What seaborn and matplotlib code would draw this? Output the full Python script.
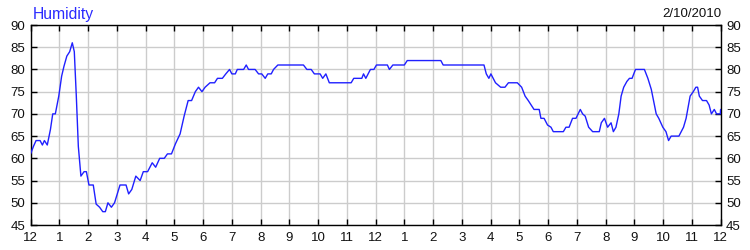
import matplotlib
matplotlib.use("Agg")
import matplotlib.pyplot as plt
import seaborn as sns
import pandas as pd

title = "Humidity"
date_label = "2/10/2010"

hours = [0, 0.1, 0.19, 0.33, 0.41, 0.48, 0.58, 0.69, 0.77, 0.86,
         0.98, 1.08, 1.16, 1.26, 1.36, 1.45, 1.52, 1.59, 1.66, 1.75,
         1.86, 1.94, 2.03, 2.18, 2.28, 2.4, 2.51, 2.6, 2.69, 2.81,
         2.92, 3.11, 3.32, 3.41, 3.52, 3.66, 3.81, 3.92, 4.07, 4.23,
         4.35, 4.49, 4.65, 4.76, 4.9, 5.04, 5.2, 5.34, 5.48, 5.6,
         5.73, 5.84, 5.96, 6.07, 6.24, 6.4, 6.5, 6.67, 6.79, 6.92,
         7.0, 7.12, 7.19, 7.41, 7.5, 7.58, 7.81, 7.93, 8.04, 8.16,
         8.25, 8.37, 8.45, 8.6, 9.49, 9.61, 9.76, 9.87, 10.07, 10.16,
         10.27, 10.39, 11.15, 11.24, 11.52, 11.58, 11.66, 11.82, 11.94, 12.03,
         12.41, 12.48, 12.6, 13.0, 13.1, 14.27, 14.35, 15.77, 15.85, 15.94,
         16.01, 16.17, 16.35, 16.5, 16.62, 16.93, 17.08, 17.2, 17.31, 17.51,
         17.69, 17.75, 17.86, 17.98, 18.1, 18.18, 18.53, 18.62, 18.73, 18.85,
         18.97, 19.12, 19.2, 19.29, 19.41, 19.55, 19.78, 19.85, 19.96, 20.07,
         20.19, 20.27, 20.36, 20.46, 20.54, 20.63, 20.74, 20.83, 20.92, 21.04,
         21.35, 21.47, 21.59, 21.76, 21.85, 21.99, 22.1, 22.19, 22.28, 22.55,
         22.71, 22.8, 22.94, 23.05, 23.14, 23.2, 23.26, 23.37, 23.51, 23.6,
         23.68, 23.78, 23.86, 23.99, 24.0]

humidity = [61, 62.7, 64, 64, 63, 64, 63, 66.5, 70, 70,
            74, 78.5, 80.7, 83, 84, 86, 84, 74, 62.7, 56,
            57, 57, 54, 54, 49.7, 49, 48, 48, 50, 49,
            50, 54, 54, 52, 53, 56, 55, 57, 57, 59,
            58, 60, 60, 61, 61, 63.3, 65.5, 69.5, 73, 73,
            75, 76, 75, 76, 77, 77, 78, 78, 79, 80,
            79, 79, 80, 80, 81, 80, 80, 79, 79, 78,
            79, 79, 80, 81, 81, 80, 80, 79, 79, 78,
            79, 77, 77, 78, 78, 79, 78, 80, 80, 81,
            81, 80, 81, 81, 82, 82, 81, 81, 79, 78,
            79, 77, 76, 76, 77, 77, 76, 74, 73, 71,
            71, 69, 69, 67.5, 67, 66, 66, 67, 67, 69,
            69, 71, 70, 69.5, 67, 66, 66, 68, 69, 67,
            68, 66, 67, 70, 74, 76, 77.3, 78, 78, 80,
            80, 78, 75.5, 70, 69, 67, 66, 64, 65, 65,
            67, 69, 74, 75, 76, 76, 74, 73, 73, 72,
            70, 71, 70, 70, 71]

x_ticks = list(range(0, 25))
x_tick_labels = ["12", "1", "2", "3", "4", "5", "6", "7", "8", "9", "10", "11",
                 "12", "1", "2", "3", "4", "5", "6", "7", "8", "9", "10", "11", "12"]
y_ticks = [45, 50, 55, 60, 65, 70, 75, 80, 85, 90]

df = pd.DataFrame({"hour": hours, "humidity": humidity})

sns.set_theme(style="white")
plt.rcParams["font.family"] = ["Liberation Sans Narrow", "Liberation Sans", "DejaVu Sans"]

fig = plt.figure(figsize=(7.5, 2.5), dpi=100)
ax = fig.add_axes([30.6 / 750, 25 / 250, 690 / 750, 200 / 250])

sns.lineplot(data=df, x="hour", y="humidity", ax=ax, color="#2020ff",
             linewidth=1.0, estimator=None, sort=False, zorder=3)

ax.set_xlim(0, 24)
ax.set_ylim(45, 90)
ax.set_xticks(x_ticks)
ax.set_xticklabels(x_tick_labels)
ax.set_yticks(y_ticks)
ax.set_yticklabels([str(v) for v in y_ticks])
ax.set_xlabel("")
ax.set_ylabel("")

ax.grid(True, color="#cccccc", linewidth=1.0, zorder=0)
ax.set_axisbelow(True)
for s in ax.spines.values():
    s.set_visible(True)
    s.set_color("black")
    s.set_linewidth(1.0)

ax.tick_params(axis="both", which="both", direction="in", length=4, width=1,
               color="black", labelsize=9.5, labelcolor="#111111",
               top=True, right=True, left=True, bottom=True,
               labelleft=True, labelright=True)
ax.tick_params(axis="x", pad=5)
ax.tick_params(axis="y", pad=4)

fig.text(33 / 750, 1 - 18.5 / 250, title, color="#2a2aff", fontsize=11.3,
         family=["Liberation Sans", "DejaVu Sans"], ha="left", va="baseline")
fig.text(721 / 750, 1 - 17 / 250, date_label, color="#111111", fontsize=9.5,
         ha="right", va="baseline")

fig.savefig("out.png", dpi=100)
